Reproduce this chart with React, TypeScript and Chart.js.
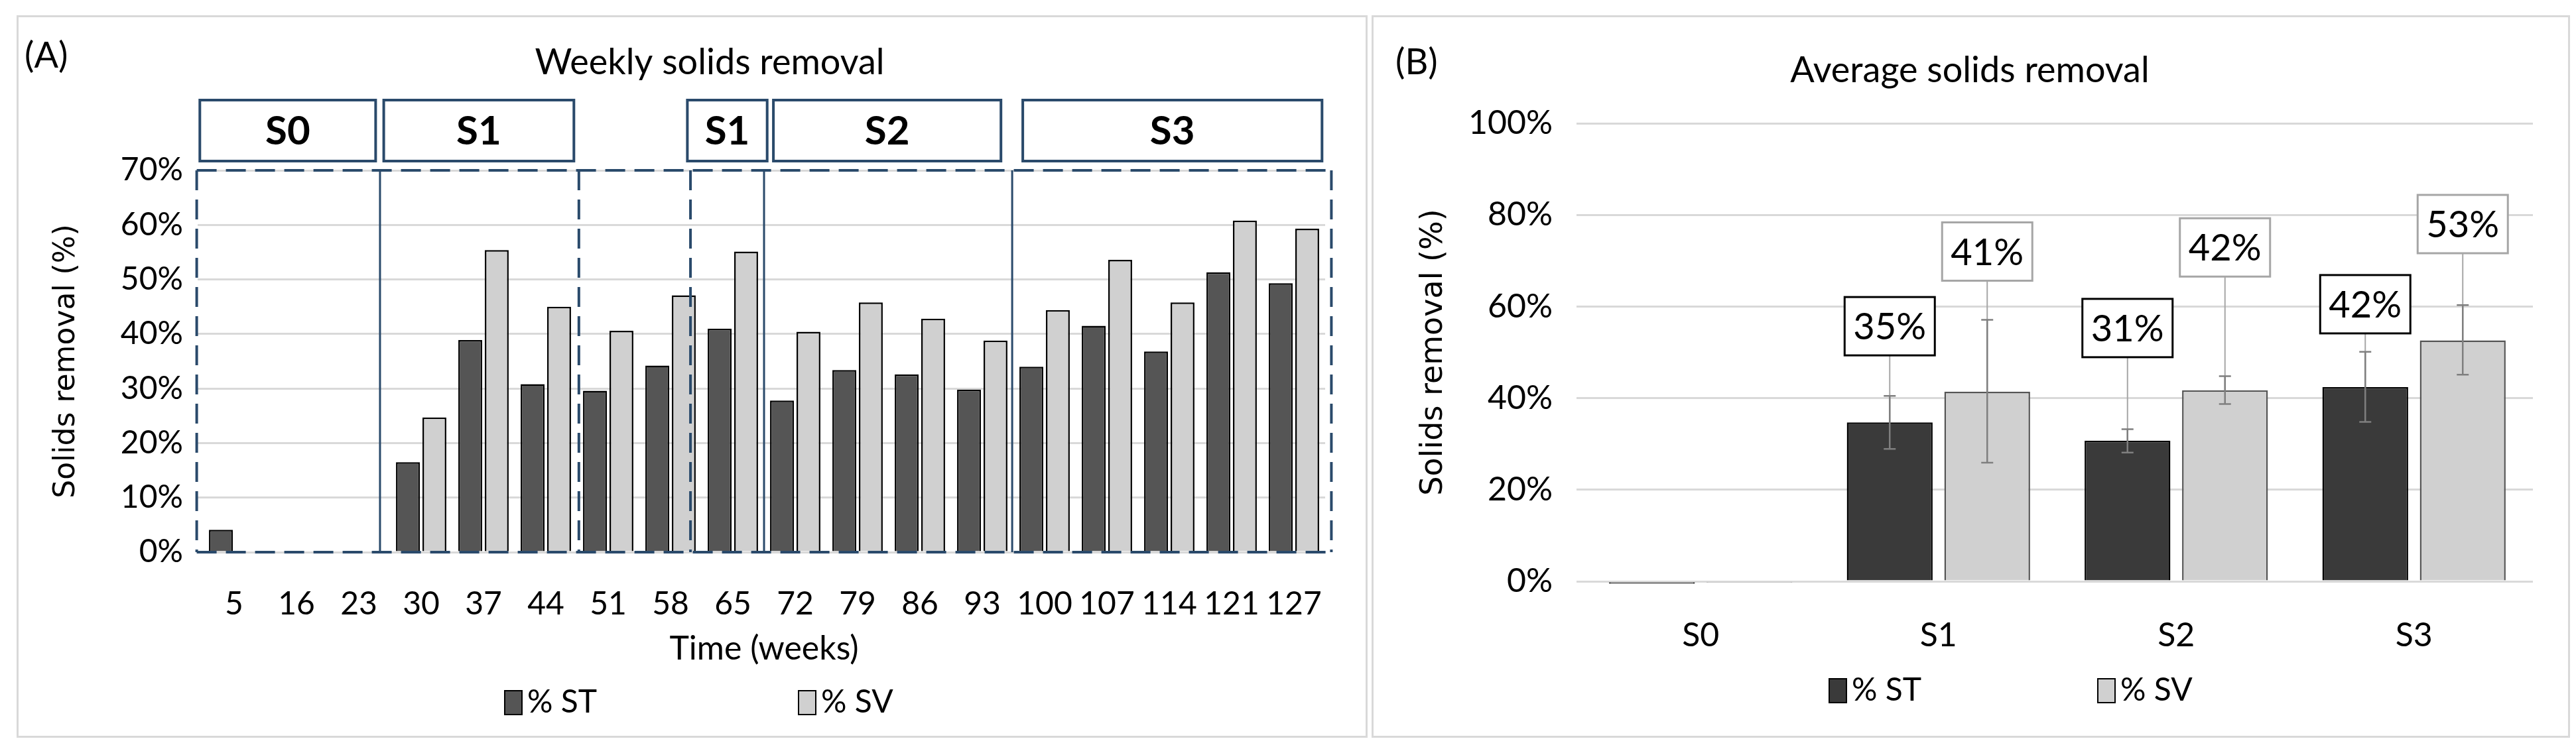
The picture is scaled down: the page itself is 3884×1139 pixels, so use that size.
import React, { useEffect, useRef } from "react";
import { Chart, registerables } from "chart.js";
Chart.register(...registerables);

const weeks = ["5","16","23","30","37","44","51","58","65","72","79","86","93","100","107","114","121","127"];
const weeklyST = [4.1,-0.2,-0.2,16.5,38.9,30.8,29.6,34.2,41.0,27.8,33.4,32.6,29.8,34.0,41.5,36.8,51.3,49.3];
const weeklySV = [0,-0.2,-0.2,24.7,55.4,45.0,40.6,47.1,55.1,40.4,45.8,42.8,38.8,44.4,53.6,45.8,60.8,59.3];

const stages = ["S0","S1","S2","S3"];
const avgST = [-0.5,34.7,30.7,42.4];
const avgSV = [-0.3,41.4,41.7,52.6];
const errST_low = [0,28.9,28.1,34.8];
const errST_high = [0,40.5,33.2,50.1];
const errSV_low = [0,25.9,38.7,45.1];
const errSV_high = [0,57.1,44.8,60.3];
const labelST_y = [0,55.7,55.3,60.5];
const labelSV_y = [0,72,72.9,78];

// stage box annotations for panel A (fractional category indices)
const stageBoxLabels = ["S0","S1","S1","S2","S3"];
const stageBoxFrom = [-0.55,2.4,7.27,8.65,12.65];
const stageBoxTo = [2.27,5.45,8.55,12.3,17.45];
const solidDividers = [2.34,8.5,12.48];
const dashedDividers = [-0.6,5.53,7.32,17.6];

const NAVY = "#2a4a6b";
const DARK = "#555555";
const LIGHT = "#d0d0d0";
const FONT = "Lato";

function legendPlugin(y: number, x1: number, x2: number) {
  return {
    id: "customLegend",
    afterDraw(chart: any) {
      const ctx = chart.ctx;
      const items = chart.data.datasets;
      const xs = [x1, x2];
      ctx.save();
      ctx.font = `48px ${FONT}`;
      ctx.textBaseline = "middle";
      items.forEach((ds: any, i: number) => {
        ctx.fillStyle = ds.backgroundColor;
        ctx.strokeStyle = "#000";
        ctx.lineWidth = 2;
        ctx.fillRect(xs[i], y - 18, 26, 36);
        ctx.strokeRect(xs[i], y - 18, 26, 36);
        ctx.fillStyle = "#000";
        ctx.fillText(ds.label, xs[i] + 34, y);
      });
      ctx.restore();
    },
  };
}

function ChartA() {
  const ref = useRef<HTMLCanvasElement>(null);
  useEffect(() => {
    const overlay = {
      id: "stagesA",
      afterDatasetsDraw(chart: any) {
        const ctx = chart.ctx;
        const xs = chart.scales.x;
        const ys = chart.scales.y;
        const top = ys.getPixelForValue(70);
        const bot = ys.getPixelForValue(0);
        const L = xs.getPixelForValue(dashedDividers[0]);
        const R = xs.getPixelForValue(dashedDividers[dashedDividers.length - 1]);
        ctx.save();
        ctx.strokeStyle = NAVY;
        ctx.lineWidth = 4;
        ctx.setLineDash([30, 14]);
        ctx.beginPath();
        ctx.moveTo(L, top); ctx.lineTo(R, top);
        ctx.moveTo(L, bot); ctx.lineTo(R, bot);
        dashedDividers.forEach((d) => {
          const x = xs.getPixelForValue(d);
          ctx.moveTo(x, top); ctx.lineTo(x, bot);
        });
        ctx.stroke();
        ctx.setLineDash([]);
        ctx.lineWidth = 3;
        ctx.beginPath();
        solidDividers.forEach((d) => {
          const x = xs.getPixelForValue(d);
          ctx.moveTo(x, top); ctx.lineTo(x, bot);
        });
        ctx.stroke();
        ctx.lineWidth = 4;
        ctx.font = `bold 60px ${FONT}`;
        ctx.textAlign = "center";
        ctx.textBaseline = "middle";
        stageBoxLabels.forEach((lab, i) => {
          const a = xs.getPixelForValue(stageBoxFrom[i]);
          const b = xs.getPixelForValue(stageBoxTo[i]);
          const y0 = top - 106, h = 92;
          ctx.fillStyle = "#fff";
          ctx.fillRect(a, y0, b - a, h);
          ctx.strokeRect(a, y0, b - a, h);
          ctx.fillStyle = "#000";
          ctx.fillText(lab, (a + b) / 2, y0 + h / 2 + 2);
        });
        ctx.restore();
      },
      afterDraw(chart: any) {
        const ctx = chart.ctx;
        ctx.save();
        ctx.fillStyle = "#000";
        ctx.textBaseline = "middle";
        ctx.font = `54px ${FONT}`;
        ctx.textAlign = "left";
        ctx.fillText("(A)", 12, 62);
        ctx.textAlign = "center";
        ctx.fillText("Weekly solids removal", 1045, 72);
        ctx.restore();
      },
    };
    const chart = new Chart(ref.current!, {
      type: "bar",
      data: {
        labels: weeks,
        datasets: [
          { label: "% ST", data: weeklyST, backgroundColor: DARK, borderColor: "#000", borderWidth: 2.5 },
          { label: "% SV", data: weeklySV, backgroundColor: LIGHT, borderColor: "#000", borderWidth: 2.5 },
        ],
      },
      options: {
        animation: false,
        responsive: false,
        maintainAspectRatio: false,
        datasets: { bar: { categoryPercentage: 0.85, barPercentage: 0.9 } },
        layout: { padding: { left: 45, right: 64, top: 234, bottom: 100 } },
        plugins: { legend: { display: false }, tooltip: { enabled: false } },
        scales: {
          x: {
            grid: { display: false },
            border: { display: false },
            ticks: { font: { family: FONT, size: 48 }, color: "#000", padding: 42, maxRotation: 0, autoSkip: false },
            title: { display: true, text: "Time (weeks)", font: { family: FONT, size: 50 }, color: "#000", padding: { top: 20 } },
            afterFit: (s: any) => { s.height = 180; },
          },
          y: {
            min: 0, max: 70,
            ticks: { stepSize: 10, font: { family: FONT, size: 48 }, color: "#000", padding: 22, callback: (v: any) => v + "%" },
            grid: { color: "#d9d9d9", lineWidth: 3 },
            border: { display: false },
            title: { display: true, text: "Solids removal (%)", font: { family: "DejaVu Sans", size: 44 }, color: "#000" },
            afterFit: (s: any) => { s.width = 236; },
          },
        },
      },
      plugins: [overlay, legendPlugin(1037, 736, 1179)],
    });
    return () => chart.destroy();
  }, []);
  return <canvas ref={ref} width={2037} height={1090} style={{ width: 2037, height: 1090, display: "block" }} />;
}

function ChartB() {
  const ref = useRef<HTMLCanvasElement>(null);
  useEffect(() => {
    const overlay = {
      id: "errB",
      afterDatasetsDraw(chart: any) {
        const ctx = chart.ctx;
        const ys = chart.scales.y;
        ctx.save();
        const sets = [
          { lo: errST_low, hi: errST_high, ly: labelST_y, v: avgST, border: "#000" },
          { lo: errSV_low, hi: errSV_high, ly: labelSV_y, v: avgSV, border: "#a6a6a6" },
        ];
        sets.forEach((s, di) => {
          const meta = chart.getDatasetMeta(di);
          meta.data.forEach((bar: any, i: number) => {
            if (i === 0) return;
            const x = bar.x;
            const yb = ys.getPixelForValue(s.v[i]);
            const yl = ys.getPixelForValue(s.ly[i]);
            const bw = 136, bh = 88;
            ctx.strokeStyle = "#a6a6a6";
            ctx.lineWidth = 2;
            ctx.beginPath();
            ctx.moveTo(x, yl + bh / 2); ctx.lineTo(x, yb);
            ctx.stroke();
            const ylo = ys.getPixelForValue(s.lo[i]);
            const yhi = ys.getPixelForValue(s.hi[i]);
            ctx.strokeStyle = "#7f7f7f";
            ctx.lineWidth = 2.5;
            ctx.beginPath();
            ctx.moveTo(x, ylo); ctx.lineTo(x, yhi);
            ctx.moveTo(x - 9, ylo); ctx.lineTo(x + 9, ylo);
            ctx.moveTo(x - 9, yhi); ctx.lineTo(x + 9, yhi);
            ctx.stroke();
            ctx.fillStyle = "#fff";
            ctx.fillRect(x - bw / 2, yl - bh / 2, bw, bh);
            ctx.strokeStyle = s.border;
            ctx.lineWidth = 3;
            ctx.strokeRect(x - bw / 2, yl - bh / 2, bw, bh);
            ctx.fillStyle = "#000";
            ctx.font = `56px ${FONT}`;
            ctx.textAlign = "center";
            ctx.textBaseline = "middle";
            ctx.fillText(Math.round(s.v[i]) + "%", x, yl + 2);
          });
        });
        ctx.restore();
      },
      afterDraw(chart: any) {
        const ctx = chart.ctx;
        ctx.save();
        ctx.fillStyle = "#000";
        ctx.textBaseline = "middle";
        ctx.font = `54px ${FONT}`;
        ctx.textAlign = "left";
        ctx.fillText("(B)", 36, 72);
        ctx.textAlign = "center";
        ctx.fillText("Average solids removal", 902, 84);
        ctx.restore();
      },
    };
    const chart = new Chart(ref.current!, {
      type: "bar",
      data: {
        labels: stages,
        datasets: [
          { label: "% ST", data: avgST, backgroundColor: "#3a3a3a", borderColor: "#000", borderWidth: 2.5, clip: false } as any,
          { label: "% SV", data: avgSV, backgroundColor: LIGHT, borderColor: "#555", borderWidth: 2.5, clip: false } as any,
        ],
      },
      options: {
        animation: false,
        responsive: false,
        maintainAspectRatio: false,
        datasets: { bar: { categoryPercentage: 0.82, barPercentage: 0.88 } },
        layout: { padding: { left: 62, right: 56, top: 163, bottom: 23 } },
        plugins: { legend: { display: false }, tooltip: { enabled: false } },
        scales: {
          x: {
            grid: { display: false },
            border: { display: false },
            ticks: { font: { family: FONT, size: 50 }, color: "#000", padding: 44 },
            afterFit: (s: any) => { s.height = 213; },
          },
          y: {
            min: 0, max: 100,
            ticks: { stepSize: 20, font: { family: FONT, size: 50 }, color: "#000", padding: 36, callback: (v: any) => v + "%" },
            grid: { color: "#d9d9d9", lineWidth: 3 },
            border: { display: false },
            title: { display: true, text: "Solids removal (%)", font: { family: "DejaVu Sans", size: 46 }, color: "#000" },
            afterFit: (s: any) => { s.width = 255; },
          },
        },
      },
      plugins: [overlay, legendPlugin(1019, 690, 1095)],
    });
    return () => chart.destroy();
  }, []);
  return <canvas ref={ref} width={1807} height={1090} style={{ width: 1807, height: 1090, display: "block" }} />;
}

export default function App() {
  const panel = (left: number, width: number): React.CSSProperties => ({
    position: "absolute", left, top: 23, width, height: 1090, border: "3px solid #d9d9d9", boxSizing: "border-box",
  });
  return (
    <div style={{ position: "fixed", left: 0, top: 0, width: 3884, height: 1139, background: "#fff" }}>
      <div style={panel(25, 2037)}></div>
      <div style={panel(2068, 1807)}></div>
      <div style={{ position: "absolute", left: 25, top: 23 }}><ChartA /></div>
      <div style={{ position: "absolute", left: 2068, top: 23 }}><ChartB /></div>
    </div>
  );
}
